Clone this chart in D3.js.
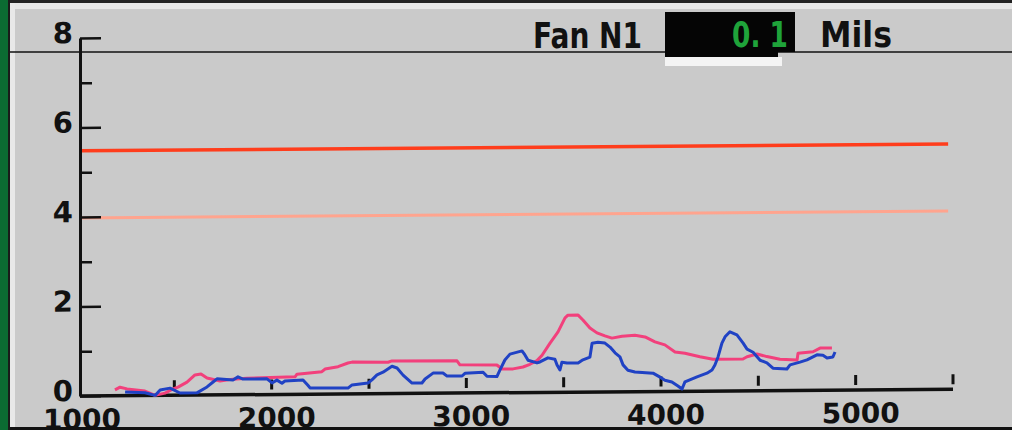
<!DOCTYPE html>
<html lang="en">
<head>
  <meta charset="UTF-8">
  <title>Fan N1 vibration</title>
  <style>
    html, body { margin: 0; padding: 0; background: #cacaca; overflow: hidden; }
    svg { display: block; }
    text { font-family: "DejaVu Sans", sans-serif; }
  </style>
</head>
<body>
  <script src="https://d3js.org/d3.v7.min.js"></script>
  <script>
    // axis ticks
    const yMajor = [0, 2, 4, 6, 8];
    const yMinor = [1, 3, 5, 7];
    const xLabels = [1000, 2000, 3000, 4000, 5000];
    const xTicks = [1500, 2000, 2500, 3000, 3500, 4000, 4500, 5000, 5500];

    // limit lines
    const limitEnd = 5475;
    const redLimit = 5.48;
    const amberLimit = 3.98;

    // header
    const title = "Fan N1";
    const readout = "0. 1";
    const unit = "Mils";

    // traces: [rpm, mils]
    const pinkTrace = [
      [1195, 0.13], [1221, 0.19], [1257, 0.15], [1349, 0.10], [1401, 0.0], [1452, 0.05],
      [1493, 0.14], [1519, 0.18], [1565, 0.29], [1606, 0.45], [1637, 0.47], [1668, 0.38],
      [1735, 0.31], [1801, 0.35], [1873, 0.37], [2120, 0.39], [2130, 0.45], [2258, 0.50],
      [2274, 0.56], [2341, 0.61], [2392, 0.69], [2413, 0.71], [2598, 0.70], [2618, 0.73],
      [2952, 0.72], [2967, 0.63], [3157, 0.62], [3183, 0.53], [3240, 0.53], [3291, 0.57],
      [3327, 0.63], [3363, 0.71], [3389, 0.83], [3430, 1.10], [3471, 1.35], [3507, 1.66],
      [3522, 1.72], [3574, 1.72], [3599, 1.61], [3635, 1.43], [3671, 1.32], [3712, 1.25],
      [3748, 1.20], [3800, 1.24], [3866, 1.26], [3918, 1.22], [3969, 1.11], [4020, 1.04],
      [4072, 0.88], [4123, 0.85], [4200, 0.77], [4267, 0.71], [4421, 0.71], [4442, 0.76],
      [4493, 0.82], [4544, 0.76], [4611, 0.70], [4699, 0.68], [4704, 0.83], [4781, 0.86],
      [4817, 0.94], [4878, 0.94]
    ];
    const blueTrace = [
      [1247, 0.08], [1349, 0.06], [1401, 0.0], [1427, 0.12], [1478, 0.16], [1529, 0.05],
      [1616, 0.05], [1668, 0.18], [1699, 0.29], [1719, 0.36], [1801, 0.33], [1827, 0.40],
      [1853, 0.35], [1976, 0.35], [2002, 0.26], [2027, 0.32], [2053, 0.25], [2068, 0.30],
      [2161, 0.32], [2186, 0.20], [2197, 0.14], [2392, 0.13], [2413, 0.20], [2495, 0.24],
      [2515, 0.31], [2541, 0.42], [2572, 0.48], [2618, 0.61], [2644, 0.57], [2675, 0.41],
      [2721, 0.23], [2772, 0.23], [2788, 0.32], [2829, 0.45], [2880, 0.45], [2901, 0.38],
      [2978, 0.38], [2993, 0.44], [3086, 0.46], [3106, 0.37], [3157, 0.36], [3173, 0.51],
      [3198, 0.73], [3224, 0.86], [3286, 0.93], [3301, 0.84], [3317, 0.72], [3363, 0.66],
      [3378, 0.68], [3419, 0.77], [3455, 0.74], [3466, 0.61], [3481, 0.50], [3491, 0.67],
      [3517, 0.65], [3574, 0.65], [3599, 0.72], [3635, 0.78], [3646, 1.09], [3676, 1.11],
      [3712, 1.09], [3738, 1.00], [3764, 0.87], [3789, 0.78], [3805, 0.60], [3830, 0.48],
      [3866, 0.44], [3959, 0.41], [3995, 0.32], [4020, 0.25], [4056, 0.21], [4087, 0.12],
      [4108, 0.05], [4123, 0.21], [4185, 0.32], [4236, 0.40], [4262, 0.47], [4277, 0.58],
      [4293, 0.76], [4313, 1.07], [4329, 1.21], [4354, 1.32], [4390, 1.25], [4421, 1.07],
      [4442, 0.93], [4473, 0.86], [4509, 0.68], [4544, 0.62], [4575, 0.50], [4647, 0.48],
      [4663, 0.57], [4714, 0.63], [4750, 0.68], [4801, 0.79], [4832, 0.78], [4853, 0.72],
      [4883, 0.74], [4894, 0.85]
    ];

    const width = 1012, height = 430;
    const svg = d3.select("body").append("svg")
      .attr("width", width)
      .attr("height", height);

    const x = d3.scaleLinear().domain([1000, 5500]).range([77, 953]);
    const y = d3.scaleLinear().domain([0, 8]).range([396, 38]);

    // screen frame
    svg.append("rect").attr("width", width).attr("height", height).attr("fill", "#cacaca");
    svg.append("rect").attr("x", 0).attr("y", 0).attr("width", width).attr("height", 3).attr("fill", "#222");
    svg.append("rect").attr("x", 10).attr("y", 3).attr("width", width - 10).attr("height", 6).attr("fill", "#e6e6e6");
    svg.append("rect").attr("x", 0).attr("y", 0).attr("width", 8).attr("height", height).attr("fill", "#0b6b32");
    svg.append("rect").attr("x", 8).attr("y", 0).attr("width", 2).attr("height", height).attr("fill", "#1a1a1a");
    svg.append("rect").attr("x", 10).attr("y", 3).attr("width", 5).attr("height", height).attr("fill", "#e8e8e8");
    svg.append("line").attr("x1", 10).attr("x2", width).attr("y1", 52).attr("y2", 52)
      .attr("stroke", "#111").attr("stroke-width", 1.5);
    svg.append("line").attr("x1", 10).attr("x2", width).attr("y1", 428.5).attr("y2", 428.5)
      .attr("stroke", "#111").attr("stroke-width", 3);

    // header readout
    svg.append("text").attr("x", 533).attr("y", 48)
      .attr("font-size", 36).attr("font-weight", "bold").attr("fill", "#111")
      .attr("textLength", 109).attr("lengthAdjust", "spacingAndGlyphs")
      .text(title);
    svg.append("rect").attr("x", 665).attr("y", 12).attr("width", 130).attr("height", 40).attr("fill", "#050505");
    svg.append("rect").attr("x", 665).attr("y", 52).attr("width", 113).attr("height", 5).attr("fill", "#050505");
    svg.append("rect").attr("x", 665).attr("y", 57).attr("width", 117).attr("height", 9).attr("fill", "#f4f4f4");
    svg.append("text").attr("x", 732).attr("y", 47)
      .attr("font-size", 36).attr("font-weight", "bold").attr("fill", "#1fa33a")
      .attr("textLength", 56).attr("lengthAdjust", "spacingAndGlyphs")
      .text(readout);
    svg.append("text").attr("x", 820).attr("y", 47)
      .attr("font-size", 36).attr("font-weight", "bold").attr("fill", "#111")
      .attr("textLength", 72).attr("lengthAdjust", "spacingAndGlyphs")
      .text(unit);

    // plot group, skewed slightly like the photographed screen
    const g = svg.append("g")
      .attr("transform", "translate(80,396) skewY(-0.45) translate(-80,-396)");

    // limit lines
    g.append("line")
      .attr("x1", 80).attr("x2", x(limitEnd))
      .attr("y1", y(amberLimit)).attr("y2", y(amberLimit))
      .attr("stroke", "#ffa48e").attr("stroke-width", 3);
    g.append("line")
      .attr("x1", 80).attr("x2", x(limitEnd))
      .attr("y1", y(redLimit)).attr("y2", y(redLimit))
      .attr("stroke", "#ff3d1c").attr("stroke-width", 3.5);

    // y axis
    g.append("g").attr("transform", "translate(80,0)")
      .call(d3.axisRight(y).tickValues(yMinor).tickSize(12).tickSizeOuter(0).tickFormat(""))
      .call(a => a.selectAll("line").attr("stroke", "#111").attr("stroke-width", 2.5))
      .call(a => a.select(".domain").remove());
    g.append("g").attr("transform", "translate(80,0)")
      .call(d3.axisRight(y).tickValues(yMajor).tickSize(21).tickSizeOuter(0).tickFormat(""))
      .call(a => a.selectAll("line").attr("stroke", "#111").attr("stroke-width", 2.5))
      .call(a => a.select(".domain").attr("stroke", "#111").attr("stroke-width", 3));

    g.selectAll(".ylab").data(yMajor).enter().append("text")
      .attr("class", "ylab")
      .attr("x", 73).attr("y", d => y(d) + 5)
      .attr("text-anchor", "end")
      .attr("font-size", 29).attr("font-weight", "bold").attr("fill", "#111")
      .text(d => d);

    // x axis
    g.append("line")
      .attr("x1", 80).attr("x2", x(5500))
      .attr("y1", y(0)).attr("y2", y(0))
      .attr("stroke", "#111").attr("stroke-width", 3.5);
    g.selectAll(".xtick").data(xTicks).enter().append("line")
      .attr("class", "xtick")
      .attr("x1", d => x(d)).attr("x2", d => x(d))
      .attr("y1", y(0) - 5).attr("y2", y(0) - 15)
      .attr("stroke", "#111").attr("stroke-width", 3);
    g.selectAll(".xlab").data(xLabels).enter().append("text")
      .attr("class", "xlab")
      .attr("x", d => x(d) + 5).attr("y", 429)
      .attr("text-anchor", "middle")
      .attr("font-size", 28).attr("font-weight", "bold").attr("fill", "#111")
      .text(d => d);

    // traces
    const line = d3.line().x(d => x(d[0])).y(d => y(d[1]));
    g.append("path").datum(pinkTrace)
      .attr("d", line).attr("fill", "none")
      .attr("stroke", "#f2407c").attr("stroke-width", 3).attr("stroke-linejoin", "round");
    g.append("path").datum(blueTrace)
      .attr("d", line).attr("fill", "none")
      .attr("stroke", "#2042c4").attr("stroke-width", 3).attr("stroke-linejoin", "round");
  </script>
</body>
</html>
